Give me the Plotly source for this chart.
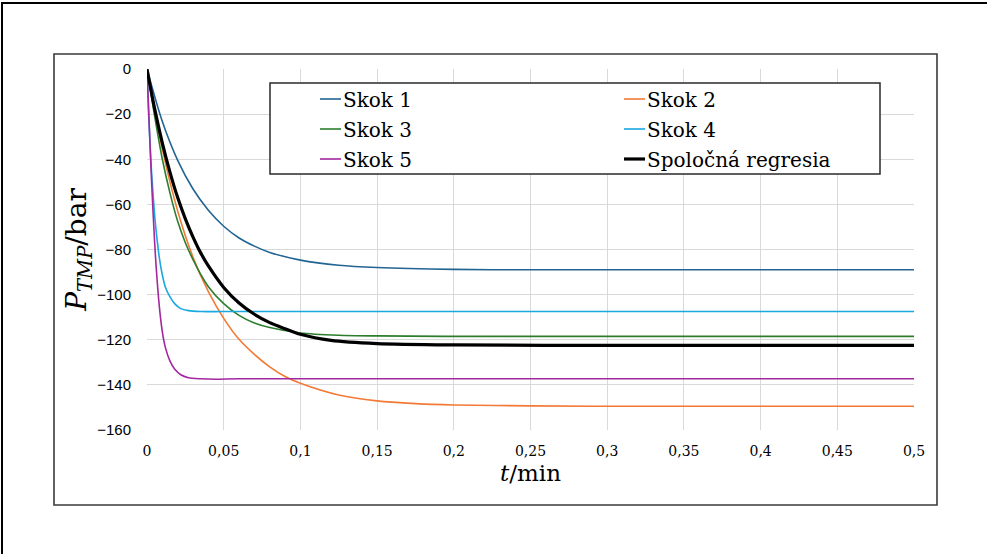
import plotly.graph_objects as go

# Time axis (min) and transmembrane pressure (bar) for each pressure step
t_skok1 = [0, 0.01, 0.02, 0.03, 0.04, 0.05, 0.06, 0.07, 0.08, 0.1, 0.125, 0.15, 0.2, 0.25, 0.3, 0.5]
p_skok1 = [0, -23.3, -40.5, -53.2, -62.6, -69.7, -74.9, -78.5, -81.3, -84.7, -87.0, -88.0, -88.8, -89, -89, -89]

t_skok2 = [0, 0.01, 0.02, 0.03, 0.04, 0.05, 0.06, 0.07, 0.08, 0.09, 0.1, 0.125, 0.15, 0.175, 0.2, 0.25, 0.3, 0.5]
p_skok2 = [0, -35.5, -62.9, -83.4, -98.7, -110.5, -119.8, -126.5, -132, -136.3, -139.3, -144.5, -147.1, -148.3, -148.9, -149.3, -149.5, -149.5]

t_skok3 = [0, 0.005, 0.01, 0.015, 0.02, 0.025, 0.03, 0.035, 0.04, 0.05, 0.06, 0.07, 0.08, 0.1, 0.125, 0.15, 0.2, 0.5]
p_skok3 = [0, -21, -40, -55, -67.5, -77, -84.5, -91, -96.5, -104, -109.2, -112.6, -114.6, -117, -118, -118.3, -118.5, -118.5]

t_skok4 = [0, 0.001, 0.002, 0.003, 0.004, 0.005, 0.006, 0.008, 0.01, 0.012, 0.015, 0.018, 0.022, 0.027, 0.035, 0.05, 0.5]
p_skok4 = [0, -18.5, -33.6, -46, -56, -65, -72, -83.5, -91.3, -96.7, -101, -104, -106.2, -107.1, -107.5, -107.5, -107.5]

t_skok5 = [0, 0.001, 0.002, 0.003, 0.004, 0.005, 0.006, 0.008, 0.01, 0.012, 0.015, 0.018, 0.022, 0.027, 0.035, 0.045, 0.06, 0.5]
p_skok5 = [0, -17, -34, -50, -64, -77, -88, -105, -116.5, -123.5, -129.5, -133, -135.5, -136.8, -137.3, -137.5, -137.3, -137.3]

t_regresia = [0, 0.005, 0.01, 0.015, 0.02, 0.025, 0.03, 0.035, 0.04, 0.05, 0.06, 0.07, 0.08, 0.09, 0.1, 0.12, 0.15, 0.2, 0.3, 0.5]
p_regresia = [0, -17.7, -32.8, -45.8, -57, -66.4, -74.5, -81.5, -87.3, -96.8, -103.7, -108.7, -112.4, -115.1, -117.6, -120.3, -121.7, -122.3, -122.5, -122.5]

series_names = ["Skok 1", "Skok 2", "Skok 3", "Skok 4", "Skok 5", "Spoločná regresia"]
series_t = [t_skok1, t_skok2, t_skok3, t_skok4, t_skok5, t_regresia]
series_p = [p_skok1, p_skok2, p_skok3, p_skok4, p_skok5, p_regresia]
colors = ["#226592", "#F27A36", "#2D7D2F", "#1AA8E0", "#A3289F", "#000000"]
widths = [1.6, 1.6, 1.6, 1.6, 1.6, 3.2]

x_ticks = [0, 0.05, 0.1, 0.15, 0.2, 0.25, 0.3, 0.35, 0.4, 0.45, 0.5]
x_tick_text = ["0", "0,05", "0,1", "0,15", "0,2", "0,25", "0,3", "0,35", "0,4", "0,45", "0,5"]
y_ticks = [0, -20, -40, -60, -80, -100, -120, -140, -160]

SERIF = "DejaVu Serif, serif"
W, H = 987, 554
L, R, T, B = 147, 73, 69, 124
PW, PH = W - L - R, H - T - B


def px(x):
    return (x - L) / PW


def py(y):
    return 1 - (y - T) / PH


fig = go.Figure()
for name, tt, pp, c, w in zip(series_names, series_t, series_p, colors, widths):
    fig.add_trace(go.Scatter(
        x=tt, y=pp, name=name, mode="lines",
        line=dict(color=c, width=w, shape="spline", smoothing=0.8),
        showlegend=False,
    ))

shapes = [
    # outer frame
    dict(type="rect", xref="paper", yref="paper", x0=px(2), x1=px(1010), y0=py(3), y1=py(600),
         line=dict(color="#000000", width=2), layer="below"),
    # chart area frame
    dict(type="rect", xref="paper", yref="paper", x0=px(54), x1=px(937), y0=py(54), y1=py(505),
         line=dict(color="#3a3a3a", width=1.6), layer="below"),
    # legend frame
    dict(type="rect", xref="paper", yref="paper", x0=px(270), x1=px(880), y0=py(83), y1=py(174),
         line=dict(color="#2a2a2a", width=1.5), fillcolor="white", layer="above"),
]

annotations = []
legend_pos = [(320, 99), (624, 99), (320, 129), (624, 129), (320, 159), (624, 159)]
for (lx, ly), name, c, w in zip(legend_pos, series_names, colors, widths):
    shapes.append(dict(type="line", xref="paper", yref="paper",
                       x0=px(lx), x1=px(lx + 21), y0=py(ly), y1=py(ly),
                       line=dict(color=c, width=w), layer="above"))
    annotations.append(dict(xref="paper", yref="paper", x=px(lx + 21), y=py(ly + 1),
                            text=name, showarrow=False, xanchor="left", yanchor="middle",
                            font=dict(family=SERIF, size=20, color="black")))

fig.update_layout(
    width=W, height=H,
    margin=dict(l=L, r=R, t=T, b=B),
    paper_bgcolor="white", plot_bgcolor="white",
    shapes=shapes, annotations=annotations,
    xaxis=dict(
        range=[0, 0.5], tickvals=x_ticks, ticktext=x_tick_text,
        showgrid=True, gridcolor="#d9d9d9", gridwidth=1, zeroline=False, showline=False,
        ticks="", ticklabelstandoff=11,
        tickfont=dict(family=SERIF, size=14, color="black"),
        title=dict(text="<i>t</i>/min", font=dict(family=SERIF, size=23, color="black"),
                   standoff=6),
    ),
    yaxis=dict(
        range=[-160, 0], tickvals=y_ticks,
        showgrid=True, gridcolor="#d9d9d9", gridwidth=1, zeroline=False, showline=False,
        ticks="", ticklabelstandoff=15,
        tickfont=dict(family="Liberation Sans", size=15, color="black"),
        title=dict(text="<i>P</i><sub><i>TMP</i></sub>/bar",
                   font=dict(family=SERIF, size=28, color="black"), standoff=0),
    ),
)

fig.write_html("out.html")
